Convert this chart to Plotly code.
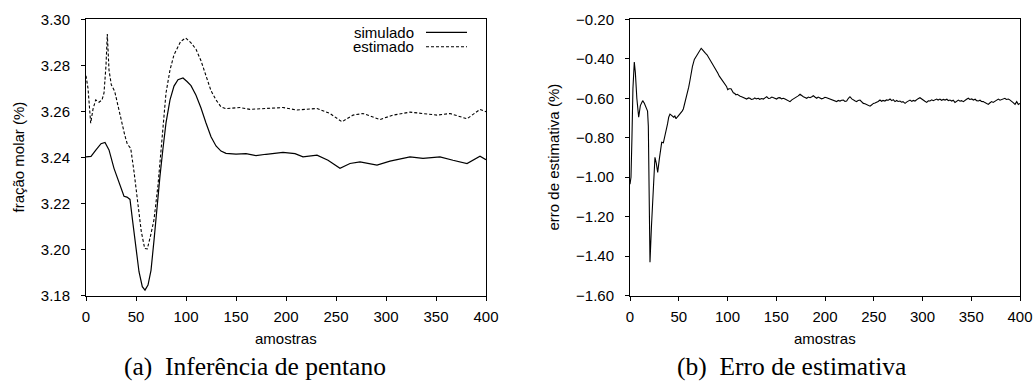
import plotly.graph_objects as go

# ---------------- data: (a) Inferência de pentano ----------------
x_sim = [0, 5, 10, 15, 19, 23, 28, 33, 38, 41, 44, 46.3, 49.7, 53, 56.3, 59, 62, 65, 68, 71, 74, 77, 80, 84, 88, 92,
         97, 101, 105, 110, 115, 120, 125, 130, 135, 140, 150, 160, 170, 180, 190, 197, 209, 217, 231, 242, 254,
         264, 274, 291, 304, 324, 337, 354, 367, 381, 394, 400]
y_sim = [3.2403, 3.2405, 3.2433, 3.2460, 3.2465, 3.2433, 3.2353, 3.2295, 3.2232, 3.2228, 3.2218, 3.2136, 3.2005,
         3.1904, 3.1839, 3.1824, 3.1846, 3.1910, 3.2040, 3.2190, 3.2320, 3.2440, 3.2550, 3.2650, 3.2710, 3.2738,
         3.2745, 3.2730, 3.2712, 3.2670, 3.2615, 3.2550, 3.2490, 3.2450, 3.2428, 3.2418, 3.2415, 3.2417, 3.2408,
         3.2414, 3.2420, 3.2422, 3.2417, 3.2403, 3.2410, 3.2388, 3.2353, 3.2374, 3.2381, 3.2367, 3.2384, 3.2403,
         3.2396, 3.2403, 3.2388, 3.2374, 3.2406, 3.2390]

x_est = [0, 2, 4.7, 7, 9.7, 13, 16, 18, 20, 21.3, 23, 25.3, 28.7, 33, 36, 38.7, 41.3, 44.7, 48, 51.3, 55.3, 58.7,
         61.3, 64.7, 68, 72, 76, 80, 84, 88, 94.7, 99.7, 105, 110, 115, 120, 125, 130, 135, 140, 154, 164, 177, 197,
         211, 222, 231, 244, 256, 267, 277, 294, 307, 324, 334, 351, 364, 381, 394, 400]
y_est = [3.2755, 3.2700, 3.2549, 3.2610, 3.2650, 3.2640, 3.2650, 3.2680, 3.2800, 3.2936, 3.2780, 3.2716, 3.2687,
         3.2600, 3.2545, 3.2498, 3.2458, 3.2440, 3.2339, 3.2208, 3.2078, 3.2005, 3.2003, 3.2063, 3.2130, 3.2280,
         3.2500, 3.2680, 3.2780, 3.2846, 3.2904, 3.2919, 3.2898, 3.2870, 3.2820, 3.2750, 3.2690, 3.2650, 3.2620,
         3.2612, 3.2617, 3.2609, 3.2613, 3.2617, 3.2606, 3.2609, 3.2613, 3.2591, 3.2555, 3.2584, 3.2591, 3.2565,
         3.2584, 3.2597, 3.2591, 3.2584, 3.2591, 3.2568, 3.2609, 3.2599]

# ---------------- data: (b) Erro de estimativa ----------------
x_err = [0, 1, 2, 3, 4.4, 5.5, 7, 8.9, 10.6, 13, 14.7, 16.5, 18, 18.8, 20.5, 22, 23.2, 25.6, 27, 28.4, 30.1, 32.5,
         34.2, 35.5, 36.9, 38.5, 39.7, 41, 42, 43.5, 44.8, 46, 47.2, 48.5, 49.9, 51, 52.3, 53.5, 54.7, 56, 57.4, 59,
         60.2, 61.5, 62.6, 64, 66, 67.5, 69.4, 70.5, 71.8, 73, 74, 75, 76.2, 77.5, 79, 80.5, 82, 83.5, 85.5, 87,
         88.2, 90, 91.6, 93, 95, 96.5, 97.8, 99, 100.2, 101.5, 103.6, 105, 106, 107.5, 108.7, 110, 111.5, 113,
         114.5, 116, 117.5, 119.7, 121.5, 123, 124.5, 126.5, 128, 129.5, 131.6, 133, 135, 136.8, 138.5, 140.2, 142,
         143.6, 145.5, 147, 148.5, 150.4, 152, 153.8, 155.5, 157.3, 159, 160.7, 162.5, 164.1, 166, 167.5, 169,
         170.9, 172.5, 174.4, 176, 177.8, 179.5, 181.2, 183, 184.6, 186.5, 188, 190, 191.5, 193, 194.9, 196.5,
         198.3, 200, 201.7, 203.5, 205.1, 207, 208.5, 210, 211.9, 213.5, 215.4, 217, 218.8, 220.5, 222.2, 224,
         225.6, 227.5, 229, 231, 232.5, 234, 235.9, 237.5, 239.3, 241, 242.7, 244.5, 246.2, 248, 249.6, 251.3, 253,
         254.5, 256.4, 258, 259.5, 261.5, 263, 265, 266.7, 268.5, 270, 271.8, 273.5, 275, 276.9, 278.5, 280, 282.1,
         284, 285.5, 287.2, 289, 290.5, 292.3, 294, 295.5, 297.4, 299, 300.9, 302.5, 304.3, 306, 307.7, 309.5, 311,
         312.8, 314.5, 316, 317.9, 319.5, 321.5, 323.1, 325, 326.5, 328.2, 330, 331.5, 333.3, 335, 336.8, 338.5,
         340, 341.9, 343.5, 345.2, 347, 348.5, 350.5, 352.1, 354, 355.5, 357.3, 359, 360.5, 362.4, 364, 365.5,
         367.5, 369, 370.9, 372.5, 374.4, 376, 377.8, 379.5, 381, 382.9, 384.5, 386, 388, 389.5, 391.5, 393, 394.9,
         396.6, 398.3, 400]
y_err = [-1.035, -1.000, -0.800, -0.550, -0.417, -0.470, -0.600, -0.696, -0.637, -0.612, -0.625, -0.650, -0.665,
         -0.740, -1.431, -1.250, -1.127, -0.899, -0.930, -0.975, -0.907, -0.823, -0.826, -0.800, -0.763, -0.730,
         -0.696, -0.680, -0.684, -0.690, -0.696, -0.690, -0.704, -0.695, -0.687, -0.682, -0.676, -0.665, -0.654,
         -0.630, -0.603, -0.570, -0.544, -0.510, -0.476, -0.440, -0.403, -0.390, -0.375, -0.365, -0.354, -0.347,
         -0.352, -0.358, -0.370, -0.372, -0.380, -0.392, -0.405, -0.418, -0.434, -0.450, -0.459, -0.472, -0.488,
         -0.498, -0.515, -0.528, -0.535, -0.540, -0.556, -0.552, -0.552, -0.565, -0.572, -0.576, -0.583, -0.580,
         -0.586, -0.590, -0.592, -0.596, -0.600, -0.604, -0.598, -0.600, -0.606, -0.604, -0.598, -0.603, -0.600,
         -0.605, -0.601, -0.604, -0.598, -0.592, -0.601, -0.600, -0.594, -0.597, -0.603, -0.604, -0.598, -0.597,
         -0.603, -0.600, -0.604, -0.609, -0.612, -0.617, -0.608, -0.604, -0.598, -0.592, -0.588, -0.580, -0.587,
         -0.592, -0.596, -0.600, -0.594, -0.597, -0.592, -0.587, -0.595, -0.600, -0.594, -0.597, -0.603, -0.600,
         -0.595, -0.597, -0.601, -0.604, -0.606, -0.609, -0.613, -0.617, -0.611, -0.614, -0.610, -0.609, -0.616,
         -0.614, -0.600, -0.592, -0.603, -0.609, -0.614, -0.617, -0.611, -0.609, -0.618, -0.626, -0.628, -0.631,
         -0.634, -0.640, -0.633, -0.626, -0.624, -0.621, -0.616, -0.609, -0.615, -0.611, -0.614, -0.608, -0.610,
         -0.604, -0.612, -0.607, -0.617, -0.611, -0.616, -0.614, -0.620, -0.617, -0.626, -0.618, -0.612, -0.609,
         -0.616, -0.611, -0.614, -0.606, -0.602, -0.597, -0.604, -0.609, -0.615, -0.621, -0.613, -0.614, -0.608,
         -0.612, -0.609, -0.604, -0.609, -0.604, -0.610, -0.606, -0.609, -0.605, -0.612, -0.609, -0.614, -0.610,
         -0.621, -0.614, -0.609, -0.615, -0.612, -0.617, -0.610, -0.605, -0.600, -0.606, -0.603, -0.609, -0.605,
         -0.612, -0.614, -0.610, -0.616, -0.617, -0.622, -0.627, -0.631, -0.624, -0.617, -0.621, -0.614, -0.609,
         -0.604, -0.610, -0.606, -0.604, -0.600, -0.606, -0.604, -0.608, -0.614, -0.622, -0.631, -0.617, -0.631,
         -0.626]

series_names = ["simulado", "estimado"]
captions = ["(a)\u00a0\u00a0Inferência de pentano", "(b)\u00a0\u00a0Erro de estimativa"]
y_titles = ["fração molar (%)", "erro de estimativa (%)"]
x_title = "amostras"

# ---------------- figure ----------------
W, H = 1034, 383
SANS = "Liberation Sans, Arial, sans-serif"
SERIF = "Liberation Serif, Times New Roman, serif"

# plot areas in window pixels
L1, R1 = 86, 486
L2, R2 = 630, 1020
TOP, BOT = 19.3, 295.7

def px(xp):
    return xp / W

def py(yp):
    return 1 - yp / H

fig = go.Figure()
fig.add_trace(go.Scatter(x=x_sim, y=y_sim, mode="lines", name=series_names[0],
                         line=dict(color="black", width=1.2), xaxis="x", yaxis="y", showlegend=False))
fig.add_trace(go.Scatter(x=x_est, y=y_est, mode="lines", name=series_names[1],
                         line=dict(color="black", width=1.1, dash="3px,2px"), xaxis="x", yaxis="y",
                         showlegend=False))
fig.add_trace(go.Scatter(x=x_err, y=y_err, mode="lines", name="erro",
                         line=dict(color="black", width=1.1), xaxis="x2", yaxis="y2", showlegend=False))

axis_common = dict(showline=True, linecolor="black", linewidth=1, mirror=True, showgrid=False, zeroline=False,
                   ticks="outside", ticklen=4, tickwidth=1, tickcolor="black", automargin=False,
                   tickfont=dict(family=SANS, size=15, color="black"))

fig.update_layout(
    width=W, height=H,
    margin=dict(l=0, r=0, t=0, b=0, pad=0, autoexpand=False),
    paper_bgcolor="white", plot_bgcolor="white",
    xaxis=dict(domain=[px(L1), px(R1)], range=[0, 400], tickvals=list(range(0, 401, 50)), anchor="y",
               ticklabelstandoff=3, **axis_common),
    yaxis=dict(domain=[py(BOT), py(TOP)], range=[3.18, 3.30], tickvals=[3.18, 3.20, 3.22, 3.24, 3.26, 3.28, 3.30],
               tickformat=".2f", anchor="x", ticklabelstandoff=8, **axis_common),
    xaxis2=dict(domain=[px(L2), px(R2)], range=[0, 400], tickvals=list(range(0, 401, 50)), anchor="y2",
                ticklabelstandoff=3, **axis_common),
    yaxis2=dict(domain=[py(BOT), py(TOP)], range=[-1.6, -0.2],
                tickvals=[-1.6, -1.4, -1.2, -1.0, -0.8, -0.6, -0.4, -0.2], tickformat=".2f", anchor="x2",
                ticklabelstandoff=8, **axis_common),
)

ann = []
# legend (text on the left, sample line on the right)
leg_rows = [(series_names[0], 32.3, None), (series_names[1], 46.7, "3px,2px")]
shapes = []
for name, yy, dash in leg_rows:
    ann.append(dict(text=name, xref="paper", yref="paper", x=px(416), y=py(yy), xanchor="right", yanchor="middle",
                    showarrow=False, font=dict(family=SANS, size=15, color="black")))
    shapes.append(dict(type="line", xref="paper", yref="paper", x0=px(426), x1=px(467), y0=py(yy), y1=py(yy),
                       line=dict(color="black", width=1.1, dash=dash) if dash else dict(color="black", width=1.2)))

# axis titles
ann.append(dict(text=y_titles[0], xref="paper", yref="paper", x=px(18), y=py((TOP + BOT) / 2), textangle=-90,
                xanchor="center", yanchor="middle", showarrow=False, font=dict(family=SANS, size=15, color="black")))
ann.append(dict(text=y_titles[1], xref="paper", yref="paper", x=px(553), y=py((TOP + BOT) / 2), textangle=-90,
                xanchor="center", yanchor="middle", showarrow=False, font=dict(family=SANS, size=15, color="black")))
for cx in [(L1 + R1) / 2, (L2 + R2) / 2]:
    ann.append(dict(text=x_title, xref="paper", yref="paper", x=px(cx), y=py(338), xanchor="center",
                    yanchor="middle", showarrow=False, font=dict(family=SANS, size=15, color="black")))
# captions
for cap, cx in zip(captions, [255, 791]):
    ann.append(dict(text=cap, xref="paper", yref="paper", x=px(cx), y=py(366), xanchor="center",
                    yanchor="middle", showarrow=False, font=dict(family=SERIF, size=25.5, color="black")))

fig.update_layout(annotations=ann, shapes=shapes)
fig.write_html("out.html", config={"displayModeBar": False},
               post_script="document.body.style.margin='0';document.body.style.overflow='hidden';")
